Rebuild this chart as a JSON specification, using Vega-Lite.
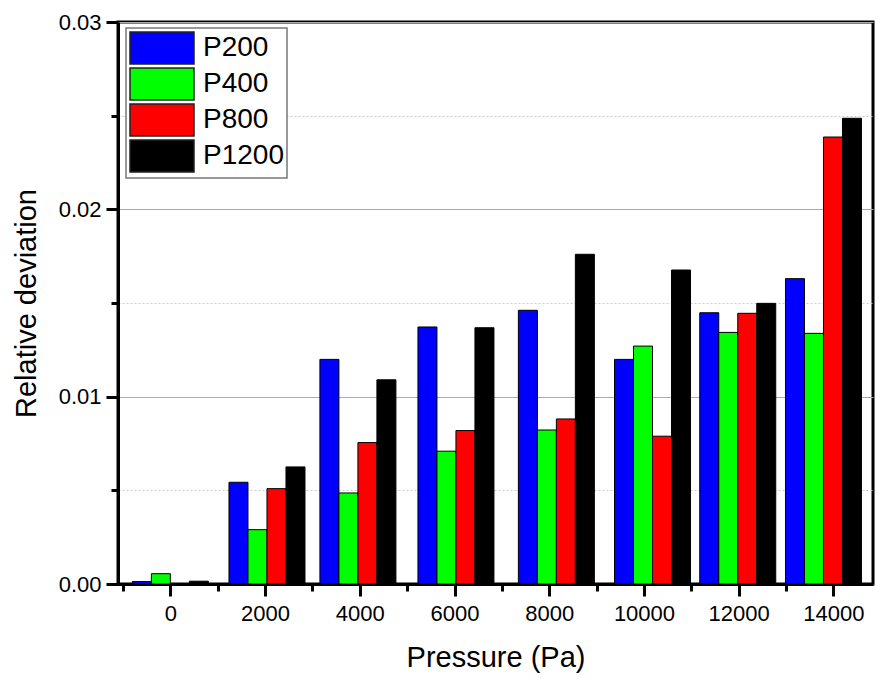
{
  "$schema": "https://vega.github.io/schema/vega-lite/v6.json",
  "width": 755,
  "height": 562,
  "autosize": {"type": "none"},
  "padding": {"left": 118, "top": 22, "right": 3, "bottom": 94},
  "background": "white",
  "config": {
    "font": "Liberation Sans",
    "view": {"stroke": "black", "strokeWidth": 3},
    "legend": {"strokeWidth": 1.5}
  },
  "data": {
    "values": [
      {"pressure": 0, "series": "P200", "value": 0.00013},
      {"pressure": 2040, "series": "P200", "value": 0.00543},
      {"pressure": 3960, "series": "P200", "value": 0.01199},
      {"pressure": 6030, "series": "P200", "value": 0.01372},
      {"pressure": 8150, "series": "P200", "value": 0.01461},
      {"pressure": 10180, "series": "P200", "value": 0.01199},
      {"pressure": 11980, "series": "P200", "value": 0.01448},
      {"pressure": 13790, "series": "P200", "value": 0.0163},
      {"pressure": 0, "series": "P400", "value": 0.00055},
      {"pressure": 2040, "series": "P400", "value": 0.0029},
      {"pressure": 3960, "series": "P400", "value": 0.00486},
      {"pressure": 6030, "series": "P400", "value": 0.00709},
      {"pressure": 8150, "series": "P400", "value": 0.00822},
      {"pressure": 10180, "series": "P400", "value": 0.0127},
      {"pressure": 11980, "series": "P400", "value": 0.01343},
      {"pressure": 13790, "series": "P400", "value": 0.01338},
      {"pressure": 0, "series": "P800", "value": 0.00002},
      {"pressure": 2040, "series": "P800", "value": 0.00509},
      {"pressure": 3960, "series": "P800", "value": 0.00755},
      {"pressure": 6030, "series": "P800", "value": 0.00819},
      {"pressure": 8150, "series": "P800", "value": 0.00881},
      {"pressure": 10180, "series": "P800", "value": 0.00789},
      {"pressure": 11980, "series": "P800", "value": 0.01445},
      {"pressure": 13790, "series": "P800", "value": 0.02386},
      {"pressure": 0, "series": "P1200", "value": 0.00015},
      {"pressure": 2040, "series": "P1200", "value": 0.00625},
      {"pressure": 3960, "series": "P1200", "value": 0.0109},
      {"pressure": 6030, "series": "P1200", "value": 0.01368},
      {"pressure": 8150, "series": "P1200", "value": 0.0176},
      {"pressure": 10180, "series": "P1200", "value": 0.01676},
      {"pressure": 11980, "series": "P1200", "value": 0.01498},
      {"pressure": 13790, "series": "P1200", "value": 0.02486}
    ]
  },
  "encoding": {
    "x": {
      "field": "pressure",
      "type": "quantitative",
      "scale": {"domain": [-1000, 14730], "nice": false, "zero": false},
      "axis": {
        "title": "Pressure (Pa)",
        "titleFont": "Liberation Sans",
        "titleFontSize": 29,
        "titleFontWeight": "normal",
        "titleColor": "black",
        "titlePadding": 19,
        "values": [-1000, 0, 1000, 2000, 3000, 4000, 5000, 6000, 7000, 8000, 9000, 10000, 11000, 12000, 13000, 14000],
        "format": "d",
        "labelExpr": "datum.value % 2000 === 0 ? datum.label : ''",
        "labelFont": "Liberation Sans",
        "labelFontSize": 22,
        "labelColor": "black",
        "labelPadding": 7,
        "labelFlush": false,
        "labelOverlap": false,
        "grid": false,
        "domainColor": "black",
        "domainWidth": 3,
        "tickColor": "black",
        "tickWidth": 3,
        "tickSize": {"condition": {"test": "datum.value % 2000 !== 0", "value": 7}, "value": 12}
      }
    },
    "y": {
      "field": "value",
      "type": "quantitative",
      "stack": null,
      "scale": {"domain": [0, 0.03], "nice": false},
      "axis": {
        "title": "Relative deviation",
        "titleFont": "Liberation Sans",
        "titleFontSize": 29,
        "titleFontWeight": "normal",
        "titleColor": "black",
        "titlePadding": 17,
        "values": [0, 0.005, 0.01, 0.015, 0.02, 0.025, 0.03],
        "labelExpr": "round(datum.value * 1000) % 10 === 0 ? format(datum.value, '.2f') : ''",
        "labelFont": "Liberation Sans",
        "labelFontSize": 22,
        "labelColor": "black",
        "labelPadding": 5,
        "labelFlush": false,
        "labelOverlap": false,
        "domainColor": "black",
        "domainWidth": 3,
        "tickColor": "black",
        "tickWidth": 3,
        "tickSize": {"condition": {"test": "round(datum.value * 1000) % 10 !== 0", "value": 7}, "value": 12},
        "grid": true,
        "gridColor": {"condition": {"test": "round(datum.value * 1000) % 10 !== 0", "value": "#cccccc"}, "value": "#aaaaaa"},
        "gridDash": {"condition": {"test": "round(datum.value * 1000) % 10 !== 0", "value": [2, 2]}, "value": []},
        "gridWidth": 1
      }
    },
    "color": {
      "field": "series",
      "type": "nominal",
      "scale": {"domain": ["P200", "P400", "P800", "P1200"], "range": ["#0000ff", "#00ff00", "#ff0000", "#000000"]},
      "legend": {
        "title": null,
        "orient": "none",
        "legendX": 8,
        "legendY": 6,
        "direction": "vertical",
        "fillColor": "white",
        "strokeColor": "#777777",
        "padding": 3,
        "symbolType": "M-1,-1H3V1H-1Z",
        "symbolSize": 1024,
        "symbolStrokeColor": "#222222",
        "symbolStrokeWidth": 1.5,
        "symbolOpacity": 1,
        "labelFont": "Liberation Sans",
        "labelFontSize": 28,
        "labelColor": "black",
        "labelOffset": 40,
        "rowPadding": -2
      }
    }
  },
  "layer": [
    {
      "transform": [{"filter": "datum.series === 'P200'"}],
      "mark": {"type": "bar", "stroke": "black", "strokeWidth": 1, "width": 19, "xOffset": -28.5}
    },
    {
      "transform": [{"filter": "datum.series === 'P400'"}],
      "mark": {"type": "bar", "stroke": "black", "strokeWidth": 1, "width": 19, "xOffset": -9.5}
    },
    {
      "transform": [{"filter": "datum.series === 'P800'"}],
      "mark": {"type": "bar", "stroke": "black", "strokeWidth": 1, "width": 19, "xOffset": 9.5}
    },
    {
      "transform": [{"filter": "datum.series === 'P1200'"}],
      "mark": {"type": "bar", "stroke": "black", "strokeWidth": 1, "width": 19, "xOffset": 28.5}
    }
  ]
}
